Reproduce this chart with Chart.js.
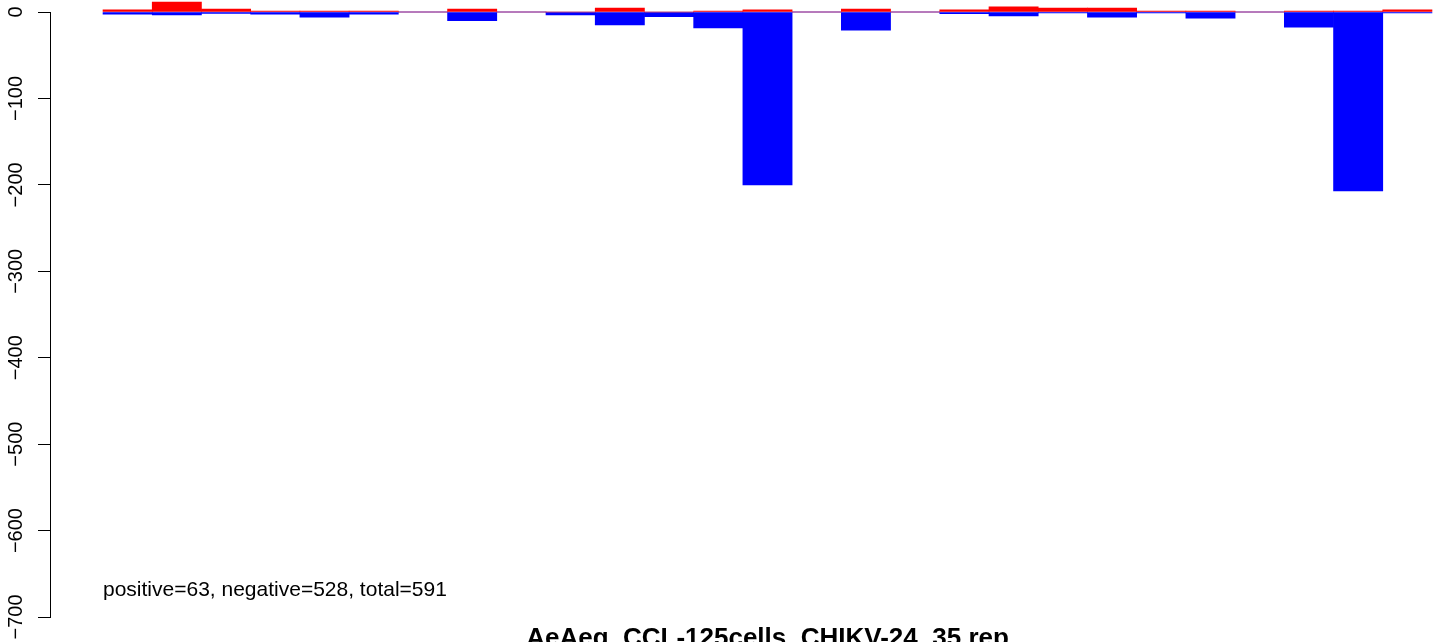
<!DOCTYPE html>
<html>
<head>
<meta charset="utf-8">
<script src="https://cdn.jsdelivr.net/npm/chart.js@4/dist/chart.umd.min.js"></script>
<style>
  html, body { margin: 0; padding: 0; background: #fff; overflow: hidden; }
</style>
</head>
<body>
<canvas id="myChart" width="1444" height="642"></canvas>
<script>
// values, one bar per bin, left to right
const positive = [2.5, 11.5, 3.5, 1, 1, 1, 0, 3.5, 0, 0, 4.5, 0, 1, 2.5, 0, 3.5, 0, 2.5, 6, 4.5, 4.5, 1, 1, 0, 1, 1, 2.5];
const negative = [-2.5, -3.5, -1.5, -2.5, -6, -2.5, 0, -10, 0, -3.5, -15, -5.5, -18.5, -200, 0, -21, 0, -2, -4.5, -1, -6, -1, -7, 0, -17.5, -207, -1];
const yMin = -700;
const yMax = 0;
const yStep = 100;
const chartTitle = "AeAeg_CCL-125cells_CHIKV-24_35.rep";
const summary = "positive=63, negative=528, total=591";

const font = "'Liberation Sans', Arial, sans-serif";
Chart.defaults.font.family = font;
Chart.defaults.color = "#000";

const toPoints = (arr) => arr.map((v, i) => ({ x: i + 0.5, y: v }));

//Text drawn in plot coordinates, like R's text() and title()
const textPlugin = {
  id: "textPlugin",
  afterDraw(chart) {
    const ctx = chart.ctx;
    const xs = chart.scales.x;
    const ys = chart.scales.y;
    ctx.save();
    ctx.fillStyle = "#000";
    ctx.font = "21px " + font;
    ctx.textAlign = "left";
    ctx.textBaseline = "middle";
    ctx.fillText(summary, xs.getPixelForValue(0), ys.getPixelForValue(-669));
    ctx.font = "bold 26px " + font;
    ctx.textAlign = "center";
    ctx.fillText(chartTitle, xs.getPixelForValue(positive.length / 2), 639);
    ctx.restore();
  },
};

const ctx = document.getElementById("myChart").getContext("2d");
const myChart = new Chart(ctx, {
  type: "bar",
  data: {
    datasets: [
      {
        label: "positive",
        data: toPoints(positive),
        backgroundColor: "#ff0000",
        borderWidth: 0,
        grouped: false,
        barPercentage: 1,
        categoryPercentage: 1,
        clip: false,
      },
      {
        label: "negative",
        data: toPoints(negative),
        backgroundColor: "#0000ff",
        borderWidth: 0,
        grouped: false,
        barPercentage: 1,
        categoryPercentage: 1,
        clip: false,
      },
      {
        type: "line",
        label: "zero",
        data: [
          { x: 0, y: 0 },
          { x: positive.length, y: 0 },
        ],
        borderColor: "#a8b4f4",
        borderWidth: 1,
        pointRadius: 0,
        clip: false,
      },
    ],
  },
  options: {
    responsive: false,
    animation: false,
    layout: {
      padding: { top: 12, bottom: 25, left: 0, right: 0 },
    },
    plugins: {
      legend: { display: false },
      tooltip: { enabled: false },
      title: { display: false },
    },
    scales: {
      x: {
        type: "linear",
        display: false,
        offset: false,
        min: -1.077,
        max: 27.244,
        ticks: { includeBounds: false, stepSize: 100 },
        grid: { display: false, offset: false },
      },
      y: {
        type: "linear",
        min: yMin,
        max: yMax,
        afterFit: (scale) => {
          scale.width = 50;
          scale.paddingTop = 0;
          scale.paddingBottom = 0;
        },
        ticks: {
          stepSize: yStep,
          minRotation: 90,
          maxRotation: 90,
          crossAlign: "center",
          padding: -1,
          color: "#000",
          font: { size: 20 },
          callback: (v) => String(v).replace("-", "\u2212"),
        },
        grid: {
          drawOnChartArea: false,
          drawTicks: true,
          tickLength: 12,
          color: "#000",
          lineWidth: 1,
        },
        border: { display: true, color: "#000", width: 1 },
      },
    },
  },
  plugins: [textPlugin],
});
</script>
</body>
</html>
